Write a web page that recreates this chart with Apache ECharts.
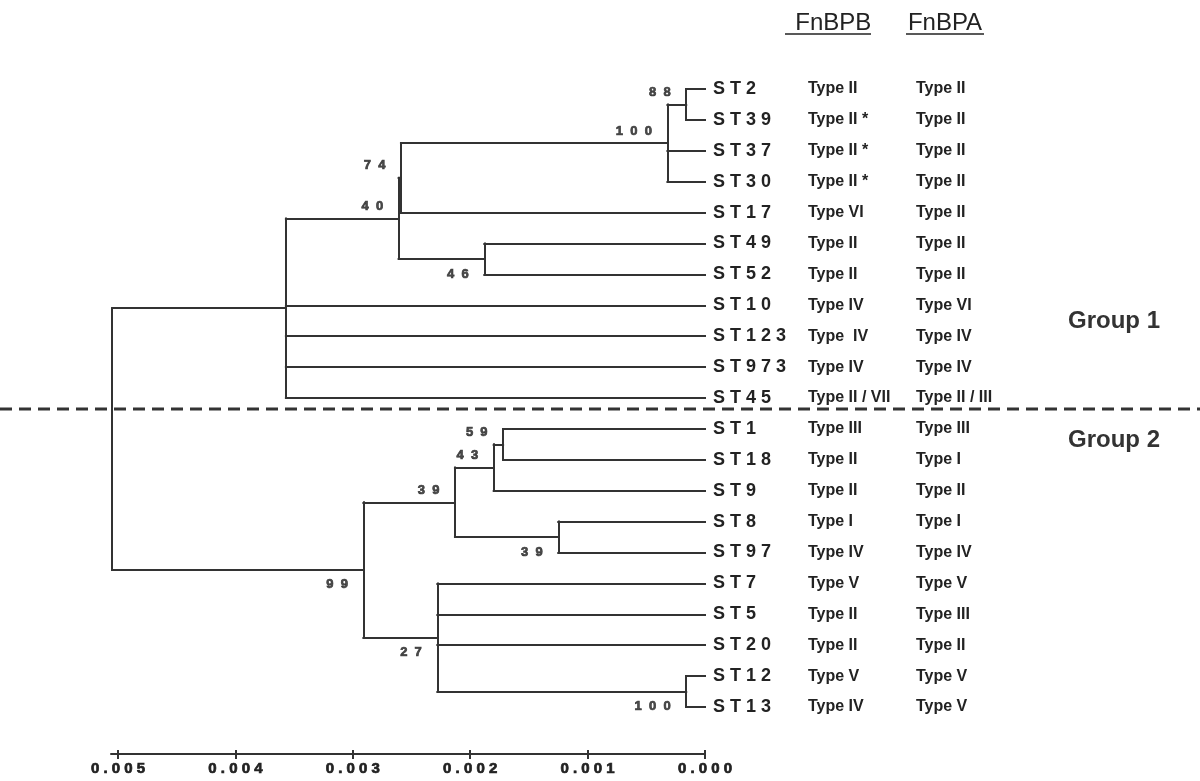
<!DOCTYPE html>
<html><head><meta charset="utf-8">
<script src="https://cdn.jsdelivr.net/npm/echarts@6/dist/echarts.min.js"></script>
<style>html,body{margin:0;padding:0;background:#fff}#c{width:1200px;height:781px}</style>
</head><body><div id="c"></div>
<script>
// ---- data ----
const leafNames = ['ST2','ST39','ST37','ST30','ST17','ST49','ST52','ST10','ST123','ST973','ST45','ST1','ST18','ST9','ST8','ST97','ST7','ST5','ST20','ST12','ST13'];
const fnbpb = ['Type II','Type II *','Type II *','Type II *','Type VI','Type II','Type II','Type IV','Type  IV','Type IV','Type II / VII','Type III','Type II','Type II','Type I','Type IV','Type V','Type II','Type II','Type V','Type IV'];
const fnbpa = ['Type II','Type II','Type II','Type II','Type II','Type II','Type II','Type VI','Type IV','Type IV','Type II / III','Type III','Type I','Type II','Type I','Type IV','Type V','Type III','Type II','Type V','Type V'];
const nodeIds = ['n88','n100a','n74','n46','n40','g1','n59','n43','n39a','n39b','n100b','n27','n99','root'];
const nodeChildren = [
  ['ST2','ST39'], ['n88','ST37','ST30'], ['n100a','ST17'], ['ST49','ST52'], ['n74','n46'],
  ['n40','ST10','ST123','ST973','ST45'], ['ST1','ST18'], ['n59','ST9'], ['ST8','ST97'], ['n43','n39a'],
  ['ST12','ST13'], ['ST7','ST5','ST20','n100b'], ['n39b','n27'], ['g1','n99']];
const nodeHeight = [0.00016,0.00032,0.00259,0.00188,0.00261,0.00357,0.00172,0.00180,0.00125,0.00213,0.00016,0.00228,0.00291,0.00505];
const nodeSupport = ['88','100','74','46','40','','59','43','39','39','100','27','99',''];
const supportSide = ['above','above','above','below','above','','above','above','below','above','below','below','below',''];
const axisTicks = [0,0.001,0.002,0.003,0.004,0.005];
const groupLabels = ['Group 1','Group 2'];
const columnHeaders = [' FnBPB','FnBPA'];

// ---- build tree geometry ----
const pos = {};
leafNames.forEach((n,i)=>{ pos[n] = {x:0, y:i}; });
const segs = [];
nodeIds.forEach((id,k)=>{
  const ch = nodeChildren[k].map(c=>pos[c]);
  const ys = ch.map(c=>c.y);
  const ymin = Math.min(...ys), ymax = Math.max(...ys);
  const h = nodeHeight[k];
  pos[id] = {x:h, y:(ymin+ymax)/2};
  segs.push([[h,ymin],[h,ymax]]);
  ch.forEach(c=>segs.push([[h,c.y],[c.x,c.y]]));
});
const above = [], below = [];
nodeIds.forEach((id,k)=>{
  if(!nodeSupport[k]) return;
  const item = {value:[pos[id].x,pos[id].y], name:nodeSupport[k]};
  (supportSide[k]==='above'?above:below).push(item);
});
const spaced = (s,sep)=>String(s).split('').join(sep);
const FONT = '"Liberation Sans", Arial, sans-serif';
const INK = '#222';
const LINE = '#333';
const XMAX = 0.00506;

const supportLabel = (dy)=>({
  show:true, position:'left', distance:15, offset:[0,dy],
  formatter:p=>spaced(p.name,'  '), color:INK, fontFamily:FONT, fontWeight:'bold', fontSize:13,
  textBorderColor:INK, textBorderWidth:0.7
});
const typeAxis = (data, off)=>({
  type:'category', data:data, inverse:true, boundaryGap:false, position:'right', offset:off, gridIndex:0,
  axisLine:{show:false}, axisTick:{show:false}, splitLine:{show:false},
  axisLabel:{interval:0, hideOverlap:false, margin:0, align:'left', padding:[0,0,10,0],
    color:INK, fontFamily:FONT, fontWeight:'bold', fontSize:16}
});

const chart = echarts.init(document.getElementById('c'), null, {renderer:'canvas'});
chart.setOption({
  animation:false,
  backgroundColor:'#fff',
  grid:[
    {left:111, right:495, top:89, bottom:74, containLabel:false, outerBoundsMode:'none'},
    {left:111, right:495, top:700, bottom:27, containLabel:false, outerBoundsMode:'none'},
    {left:111, right:495, top:700, bottom:27, containLabel:false, outerBoundsMode:'none'}
  ],
  xAxis:[{
    type:'value', gridIndex:0, inverse:true, min:0, max:XMAX, show:false
  },{
    type:'value', gridIndex:1, inverse:true, min:0, max:XMAX, position:'bottom',
    axisLine:{show:true, lineStyle:{color:LINE, width:2}},
    axisTick:{show:true, length:5, customValues:axisTicks, lineStyle:{color:LINE, width:2}},
    axisLabel:{show:true, customValues:axisTicks, margin:7, formatter:v=>spaced(Number(v).toFixed(3),' '),
      color:INK, fontFamily:FONT, fontWeight:'bold', fontSize:15, textBorderColor:INK, textBorderWidth:0.7},
    splitLine:{show:false}
  },{
    type:'value', gridIndex:2, inverse:true, min:0, max:XMAX, position:'bottom',
    axisLine:{show:false},
    axisTick:{show:true, inside:true, length:4, customValues:axisTicks, lineStyle:{color:LINE, width:2}},
    axisLabel:{show:false}, splitLine:{show:false}
  }],
  yAxis:[
    {type:'value', gridIndex:0, inverse:true, min:0, max:20, show:false},
    {type:'category', data:leafNames, inverse:true, boundaryGap:false, position:'right', offset:0, gridIndex:0,
      axisLine:{show:false}, axisTick:{show:false}, splitLine:{show:false},
      axisLabel:{interval:0, hideOverlap:false, margin:8, formatter:v=>spaced(v,' '), align:'left',
        color:INK, fontFamily:FONT, fontWeight:'bold', fontSize:18}},
    typeAxis(fnbpb, 103),
    typeAxis(fnbpa, 211),
    {type:'value', gridIndex:1, show:false},
    {type:'value', gridIndex:2, show:false}
  ],
  series:[{
    type:'lines', coordinateSystem:'cartesian2d', xAxisIndex:0, yAxisIndex:0, silent:true, clip:false,
    data:segs.map(c=>({coords:c})),
    lineStyle:{color:LINE, width:2, opacity:1, cap:'square', curveness:0}
  },{
    type:'scatter', xAxisIndex:0, yAxisIndex:0, symbolSize:1, itemStyle:{color:'rgba(0,0,0,0)'}, silent:true, clip:false,
    data:above, label:supportLabel(-12)
  },{
    type:'scatter', xAxisIndex:0, yAxisIndex:0, symbolSize:1, itemStyle:{color:'rgba(0,0,0,0)'}, silent:true, clip:false,
    data:below, label:supportLabel(15)
  }],
  graphic:[
    {type:'line', shape:{x1:0,y1:409,x2:1200,y2:409}, style:{stroke:LINE, lineWidth:3, lineDash:[12,7]}, silent:true},
    {type:'text', x:830, y:23, style:{text:columnHeaders[0], font:'24px '+FONT, fill:INK, align:'center', verticalAlign:'middle'}},
    {type:'line', shape:{x1:785,y1:34,x2:871,y2:34}, style:{stroke:INK, lineWidth:1.5}},
    {type:'text', x:945, y:23, style:{text:columnHeaders[1], font:'24px '+FONT, fill:INK, align:'center', verticalAlign:'middle'}},
    {type:'line', shape:{x1:906,y1:34,x2:984,y2:34}, style:{stroke:INK, lineWidth:1.5}},
    {type:'text', x:1068, y:321, style:{text:groupLabels[0], font:'bold 24px '+FONT, fill:'#333', align:'left', verticalAlign:'middle'}},
    {type:'text', x:1068, y:440, style:{text:groupLabels[1], font:'bold 24px '+FONT, fill:'#333', align:'left', verticalAlign:'middle'}}
  ]
});
</script></body></html>
